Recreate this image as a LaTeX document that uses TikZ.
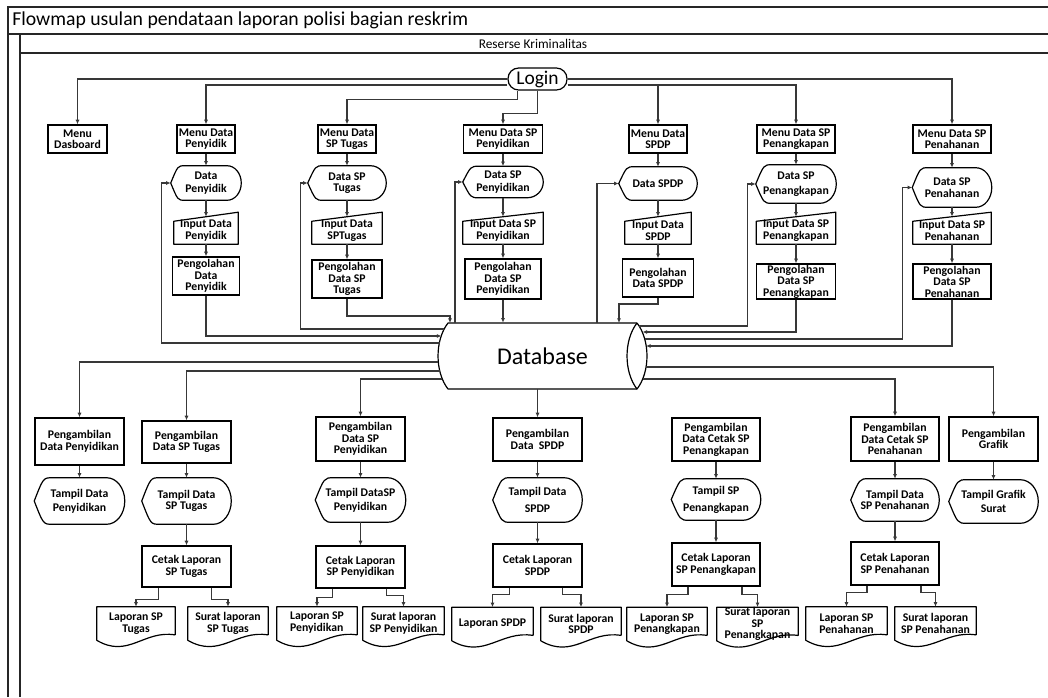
\documentclass[tikz,border=0pt]{standalone}
\usepackage{fontspec}
\setmainfont{Carlito}
\usetikzlibrary{calc,arrows.meta}

\newcommand\nodefont{\fontsize{8.8pt}{8.6pt}\selectfont\bfseries}

% outline of a "display" symbol around node #1
\newcommand\dispoutline[1]{%
  \path ($(#1.north west)!.2!(#1.north east)$) coordinate (#1-a)
        ($(#1.north west)!.8!(#1.north east)$) coordinate (#1-b)
        ($(#1.south west)!.8!(#1.south east)$) coordinate (#1-c)
        ($(#1.south west)!.2!(#1.south east)$) coordinate (#1-d);
  \draw[outl] (#1.west) .. controls ($(#1.north west)!.5!(#1-a)$) .. (#1-a) -- (#1-b)
    .. controls ($(#1-b)!.552!(#1.north east)$) and ($(#1.east)!.552!(#1.north east)$) .. (#1.east)
    .. controls ($(#1.east)!.552!(#1.south east)$) and ($(#1-c)!.552!(#1.south east)$) .. (#1-c)
    -- (#1-d) .. controls ($(#1.south west)!.5!(#1-d)$) .. (#1.west);}

% outline of a "manual input" symbol around node #1
\newcommand\inoutline[1]{%
  \draw[outl] ($(#1.north west)+(0,-3.4pt)$) -- ($(#1.north east)+(0,3.4pt)$)
    -- (#1.south east) -- (#1.south west) -- cycle;}

% outline of a "document" symbol around node #1
\newcommand\docoutline[1]{%
  \draw[outl] ($(#1.south east)+(0,4pt)$) -- (#1.north east) -- (#1.north west) -- (#1.south west)
    .. controls ($(#1.south west)!.4!(#1.south east)+(0,-14pt)$) and ($(#1.south west)!.6!(#1.south east)+(0,8pt)$)
    .. ($(#1.south east)+(0,4pt)$);}

\tikzset{
  lbl/.style={font=\nodefont, align=center, inner sep=0pt},
  box/.style={lbl, draw, line width=.9pt},
  sz/.style 2 args={minimum width=#1*0.75pt, minimum height=#2*0.75pt},
  outl/.style={line width=.9pt, line join=round},
  conn/.style={line width=.8pt, draw=black!78, -{Latex[length=3.5pt,width=3pt]}},
  frame/.style={line width=1pt, draw=black!85},
}

\begin{document}
\begin{tikzpicture}[x=0.75pt,y=-0.75pt]
\useasboundingbox (0,0) rectangle (1048,697);

% swimlane frame
\draw[frame] (8,697) -- (8,7) -- (1048,7);
\draw[frame] (8,34) -- (1048,34);
\draw[frame] (20,697) -- (20,34);
\draw[frame] (20,53) -- (1048,53);
\node[anchor=west, inner sep=0pt, font=\fontsize{14.8pt}{16pt}\selectfont] (title) at (12,20.5)
  {Flowmap usulan pendataan laporan polisi bagian reskrim};
\node[inner sep=0pt, font=\fontsize{10pt}{11pt}\selectfont] (lane) at (533,43.5) {Reserse Kriminalitas};

% login
\node[draw, line width=.9pt, rounded corners=8pt, sz={59}{22}, inner sep=0pt,
      font=\fontsize{14.6pt}{15pt}\selectfont] (login) at (537.5,79) {Login};

% menus
\node[box,sz={59}{28}] (m1) at (77.5,139) {Menu\\Dasboard};
\node[box,sz={58}{28}] (m2) at (206,139) {Menu Data\\Penyidik};
\node[box,sz={58}{28}] (m3) at (347,139) {Menu Data\\SP Tugas};
\node[box,sz={79}{28}] (m4) at (503,139) {Menu Data SP\\Penyidikan};
\node[box,sz={58}{28}] (m5) at (658,139) {Menu Data\\SPDP};
\node[box,sz={78}{28}] (m6) at (796,139) {Menu Data SP\\Penangkapan};
\node[box,sz={78}{28}] (m7) at (952,139) {Menu Data SP\\Penahanan};

% data displays
\node[lbl,sz={70}{34}] (d2) at (206,183) {Data\\[1.5pt]Penyidik}; \dispoutline{d2}
\node[lbl,sz={78}{34}] (d3) at (347,183) {Data SP\\Tugas}; \dispoutline{d3}
\node[lbl,sz={80}{31}] (d4) at (503,182) {Data SP\\[1.5pt]Penyidikan}; \dispoutline{d4}
\node[lbl,sz={78}{33}] (d5) at (658,183.5) {Data SPDP}; \dispoutline{d5}
\node[lbl,sz={80}{38}] (d6) at (796,184) {Data SP\\[2.5pt]Penangkapan}; \dispoutline{d6}
\node[lbl,sz={79}{39}] (d7) at (952,187.5) {Data SP\\Penahanan}; \dispoutline{d7}

% manual inputs
\node[lbl,sz={64}{27}] (i2) at (206,230.5) {Input Data\\Penyidik}; \inoutline{i2}
\node[lbl,sz={70}{27}] (i3) at (347,230.5) {Input Data\\SPTugas}; \inoutline{i3}
\node[lbl,sz={80}{27}] (i4) at (503,230.5) {Input Data SP\\Penyidikan}; \inoutline{i4}
\node[lbl,sz={66}{27}] (i5) at (658,230.5) {Input Data\\SPDP}; \inoutline{i5}
\node[lbl,sz={79}{27}] (i6) at (796,230.5) {Input Data SP\\Penangkapan}; \inoutline{i6}
\node[lbl,sz={78}{27}] (i7) at (952,230.5) {Input Data SP\\Penahanan}; \inoutline{i7}

% processing
\node[box,sz={67}{38}] (p2) at (206,276) {Pengolahan\\Data\\Penyidik};
\node[box,sz={70}{38}] (p3) at (347,279) {Pengolahan\\Data SP\\Tugas};
\node[box,sz={76}{40}] (p4) at (503,279) {Pengolahan\\Data SP\\Penyidikan};
\node[box,sz={71}{38}] (p5) at (658,278) {Pengolahan\\Data SPDP};
\node[box,sz={79}{35}] (p6) at (796,281.5) {Pengolahan\\Data SP\\Penangkapan};
\node[box,sz={78}{35}] (p7) at (952,281.5) {Pengolahan\\Data SP\\Penahanan};

% database (horizontal drum)
\node[inner sep=0pt, sz={189}{66}, font=\fontsize{18pt}{18pt}\selectfont] (DB) at (542.5,356) {Database};
\draw[outl] (637,323) -- (448,323) .. controls (434.7,340) and (434.7,372) .. (448,389) -- (637,389);
\draw[outl] (637,323) .. controls (650.3,340) and (650.3,372) .. (637,389)
  .. controls (623.7,372) and (623.7,340) .. (637,323);
% ports on the drum outline
\coordinate (dbL329) at (444,329);
\coordinate (dbL336) at (441.5,336);
\coordinate (dbL343) at (439.8,343);
\coordinate (dbL362) at (438.4,362);
\coordinate (dbL371) at (439.6,371);
\coordinate (dbL379) at (442.3,379);
\coordinate (dbR326) at (639,326);
\coordinate (dbR332) at (642.5,332);
\coordinate (dbR339) at (644.5,339);
\coordinate (dbR346) at (646,346);
\coordinate (dbR367) at (646,367);
\coordinate (dbR379) at (642.5,379);
\coordinate (dbT450) at (450,323);
\coordinate (dbT455) at (455,323);
\coordinate (dbT597) at (597,323);
\coordinate (dbT619) at (619,323);

% retrieval
\node[box,sz={89}{47}] (g1) at (79.5,441.5) {Pengambilan\\Data Penyidikan};
\node[box,sz={89}{42}] (g2) at (186.5,442) {Pengambilan\\Data SP Tugas};
\node[box,sz={89}{44}] (g3) at (360.5,439) {Pengambilan\\Data SP\\Penyidikan};
\node[box,sz={89}{43}] (g4) at (537.5,439.5) {Pengambilan\\Data\ \ SPDP};
\node[box,sz={88}{43}] (g5) at (716,439.5) {Pengambilan\\Data Cetak SP\\Penangkapan};
\node[box,sz={88}{44}] (g6) at (895,439) {Pengambilan\\Data Cetak SP\\Penahanan};
\node[box,sz={89}{44}] (g7) at (993.5,439) {Pengambilan\\Grafik};

% displays
\node[lbl,sz={90}{46}] (t1) at (79.5,501) {Tampil Data\\[2pt]Penyidikan}; \dispoutline{t1}
\node[lbl,sz={89}{46}] (t2) at (186.5,501) {Tampil Data\\SP Tugas}; \dispoutline{t2}
\node[lbl,sz={90}{44}] (t3) at (360.5,500) {Tampil DataSP\\[2pt]Penyidikan}; \dispoutline{t3}
\node[lbl,sz={89}{44}] (t4) at (537.5,500) {Tampil Data\\[4pt]SPDP}; \dispoutline{t4}
\node[lbl,sz={89}{41}] (t5) at (716,499.5) {Tampil SP\\[4pt]Penangkapan}; \dispoutline{t5}
\node[lbl,sz={88}{42}] (t6) at (895,500) {Tampil Data\\SP Penahanan}; \dispoutline{t6}
\node[lbl,sz={89}{43}] (t7) at (993.5,501.5) {Tampil Grafik\\[2pt]Surat}; \dispoutline{t7}

% print
\node[box,sz={89}{41}] (c2) at (186.5,566.5) {Cetak Laporan\\SP Tugas};
\node[box,sz={89}{42}] (c3) at (360.5,567) {Cetak Laporan\\SP Penyidikan};
\node[box,sz={89}{43}] (c4) at (537.5,565.5) {Cetak Laporan\\SPDP};
\node[box,sz={88}{43}] (c5) at (716,564.5) {Cetak Laporan\\SP Penangkapan};
\node[box,sz={88}{43}] (c6) at (895,563.5) {Cetak Laporan\\SP Penahanan};

% documents
\node[lbl,sz={78}{33}] (L2) at (136,623.5) {Laporan SP\\Tugas}; \docoutline{L2}
\node[lbl,sz={80}{33}] (S2) at (228,623.5) {Surat laporan\\SP Tugas}; \docoutline{S2}
\node[lbl,sz={80}{33}] (L3) at (317,623.5) {\begin{tabular}{@{}l@{}}Laporan SP\\Penyidikan\end{tabular}}; \docoutline{L3}
\node[lbl,sz={81}{33}] (S3) at (403.5,623.5) {Surat laporan\\SP Penyidikan}; \docoutline{S3}
\node[lbl,sz={81}{33}] (L4) at (492.5,624) {Laporan SPDP}; \docoutline{L4}
\node[lbl,sz={80}{33}] (S4) at (581,624) {Surat laporan\\SPDP}; \docoutline{S4}
\node[lbl,sz={80}{33}] (L5) at (667,624) {Laporan SP\\Penangkapan}; \docoutline{L5}
\node[lbl,sz={81}{33}] (S5) at (757.5,624) {Surat laporan\\SP\\Penangkapan}; \docoutline{S5}
\node[lbl,sz={81}{33}] (L6) at (846.5,623.5) {Laporan SP\\Penahanan}; \docoutline{L6}
\node[lbl,sz={81}{33}] (S6) at (935.5,623.5) {Surat laporan\\SP Penahanan}; \docoutline{S6}

% ---- connectors ----
% login to menus
\draw[conn] (login.west) -| (m1.north);
\draw[conn] ([yshift=-4.5pt]login.west) -| (m2.north);
\draw[conn] ([xshift=-15pt]login.south) -- ++(0,-6.75pt) -| (m3.north);
\draw[conn] (login.south) -- ++(0,-17.25pt) -| (m4.north);
\draw[conn] ([yshift=-4.5pt]login.east) -| (m5.north);
\draw[conn] ([yshift=-4.5pt]login.east) -| (m6.north);
\draw[conn] (login.east) -| (m7.north);

% columns: menu -> data -> input -> processing
\foreach \k in {2,...,7}{
  \draw[conn] (m\k.south) -- (m\k.south |- d\k.north);
  \draw[conn] (d\k.south) -- (d\k.south |- i\k.north);
  \draw[conn] (i\k.south) -- (i\k.south |- p\k.north);
}

% processing -> database
\draw[conn] (p2.south) |- (dbL336);
\draw[conn] (p3.south) |- ($(dbT450)+(0,5.25pt)$) -- (dbT450);
\draw[conn] (p4.south) -- (p4.south |- DB.north);
\draw[conn] (p5.south) |- ($(dbT619)+(0,14.25pt)$) -- (dbT619);
\draw[conn] (p6.south) |- (dbR332);
\draw[conn] (p7.south) |- (dbR346);

% database -> data displays
\draw[conn] (dbL343) -| ($(d2.west)+(-6.75pt,0)$) -- (d2.west);
\draw[conn] (dbL329) -| ($(d3.west)+(-5.25pt,0)$) -- (d3.west);
\draw[conn] (dbT455) |- (d4.west);
\draw[conn] (dbT597) |- (d5.west);
\draw[conn] (dbR326) -| ($(d6.west)+(-6pt,0)$) -- (d6.west);
\draw[conn] (dbR339) -| ($(d7.west)+(-7pt,0)$) -- (d7.west);

% database -> retrieval
\draw[conn] (dbL362) -| (g1.north);
\draw[conn] (dbL371) -| (g2.north);
\draw[conn] (dbL379) -| (g3.north);
\draw[conn] (g4.north |- DB.south) -- (g4.north);
\draw[conn] (dbR379) -| (g6.north);
\draw[conn] (dbR367) -| (g7.north);

% retrieval -> display
\foreach \k in {1,...,7}{
  \draw[conn] (g\k.south) -- (g\k.south |- t\k.north);
}
% display -> print
\foreach \k in {2,...,6}{
  \draw[conn] (t\k.south) -- (t\k.south |- c\k.north);
}

% print -> documents
\draw[conn] ([xshift=-21pt]c2.south) -- ++(0,-9pt) -| (L2.north);
\draw[conn] ([xshift=19pt]c2.south) -- ++(0,-9pt) -| (S2.north);
\draw[conn] ([xshift=-21pt]c3.south) -- ++(0,-7pt) -| (L3.north);
\draw[conn] ([xshift=19.5pt]c3.south) -- ++(0,-5.5pt) -| (S3.north);
\draw[conn] ([xshift=-21pt]c4.south) -- ++(0,-5.5pt) -| (L4.north);
\draw[conn] ([xshift=19pt]c4.south) -- ++(0,-5.5pt) -| (S4.north);
\draw[conn] ([xshift=-21pt]c5.south) -- ++(0,-6pt) -| (L5.north);
\draw[conn] ([xshift=19.5pt]c5.south) -- ++(0,-6pt) -| (S5.north);
\draw[conn] ([xshift=-21pt]c6.south) -- ++(0,-5.5pt) -| (L6.north);
\draw[conn] ([xshift=19.5pt]c6.south) -- ++(0,-5.5pt) -| (S6.north);
\end{tikzpicture}
\end{document}
